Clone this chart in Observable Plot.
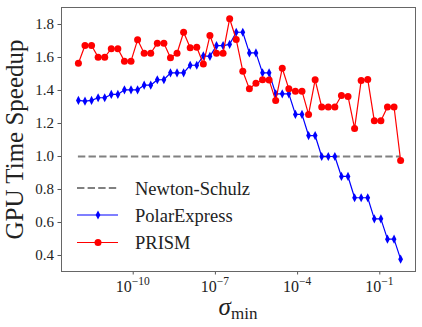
<!DOCTYPE html>
<html><head><meta charset="utf-8">
<script src="https://cdn.jsdelivr.net/npm/d3@7"></script>
<script src="https://cdn.jsdelivr.net/npm/@observablehq/plot@0.6"></script>
<style>
html,body{margin:0;padding:0;background:#fff;}
#chart{width:422px;height:327px;}
</style>
</head><body><div id="chart"></div>
<script>
// log10(sigma_min) for each measured point
const sigmaExp = [-12, -11.76, -11.52, -11.28, -11.04, -10.8, -10.56, -10.32, -10.08, -9.84,
  -9.6, -9.36, -9.12, -8.88, -8.64, -8.4, -8.16, -7.92, -7.68, -7.44,
  -7.2, -6.96, -6.72, -6.48, -6.24, -6, -5.76, -5.52, -5.28, -5.04,
  -4.8, -4.56, -4.32, -4.08, -3.84, -3.6, -3.36, -3.12, -2.88, -2.64,
  -2.4, -2.16, -1.92, -1.68, -1.44, -1.2, -0.96, -0.72, -0.48, -0.24];
const polarExpress = [1.34, 1.335, 1.34, 1.356, 1.356, 1.376, 1.376, 1.404, 1.404, 1.404,
  1.432, 1.432, 1.465, 1.465, 1.507, 1.507, 1.507, 1.553, 1.553, 1.61,
  1.607, 1.672, 1.672, 1.68, 1.753, 1.753, 1.628, 1.628, 1.507, 1.507,
  1.38, 1.38, 1.38, 1.255, 1.255, 1.127, 1.127, 1.0, 1.0, 1.0,
  0.879, 0.879, 0.75, 0.75, 0.75, 0.622, 0.622, 0.499, 0.499, 0.378];
const prism = [1.565, 1.673, 1.673, 1.602, 1.602, 1.653, 1.653, 1.578, 1.578, 1.707,
  1.626, 1.626, 1.687, 1.687, 1.598, 1.626, 1.753, 1.659, 1.662, 1.561,
  1.733, 1.626, 1.626, 1.835, 1.709, 1.517, 1.41, 1.444, 1.465, 1.463,
  1.339, 1.535, 1.41, 1.396, 1.396, 1.255, 1.465, 1.30, 1.30, 1.30,
  1.37, 1.364, 1.17, 1.46, 1.467, 1.216, 1.216, 1.30, 1.30, 0.976];
const newtonSchulz = 1.0;
const xTickExp = [-10, -7, -4, -1];
const yTicks = [0.4, 0.6, 0.8, 1.0, 1.2, 1.4, 1.6, 1.8];
const seriesNames = ["Newton-Schulz", "PolarExpress", "PRISM"];
const colors = {"Newton-Schulz": "#808080", "PolarExpress": "#0000ff", "PRISM": "#ff0000"};

const sigma = sigmaExp.map(e => Math.pow(10, e));
const rowsPE = sigma.map((s, i) => ({sigma: s, v: polarExpress[i]}));
const rowsPR = sigma.map((s, i) => ({sigma: s, v: prism[i]}));
const xTicks = xTickExp.map(e => Math.pow(10, e));

const thinDiamond = {
  draw(ctx) {
    const w = 2.4, h = 4.6;
    ctx.moveTo(0, -h); ctx.lineTo(w, 0); ctx.lineTo(0, h); ctx.lineTo(-w, 0); ctx.closePath();
  }
};

const FONT = "Liberation Serif";
const W = 422, H = 327;
const plot = Plot.plot({
  width: W, height: H,
  marginLeft: 61, marginRight: 7, marginTop: 7, marginBottom: 56,
  style: {fontFamily: FONT, fontSize: "15px", color: "#222", background: "#fff"},
  x: {type: "log", domain: [Math.pow(10, -12.617), Math.pow(10, 0.303)]},
  y: {domain: [0.303, 1.903]},
  marks: [
    Plot.ruleY([newtonSchulz], {x1: sigma[0], x2: sigma[sigma.length - 1], stroke: colors["Newton-Schulz"], strokeWidth: 2, strokeDasharray: "7.4,3.2"}),
    Plot.line(rowsPE, {x: "sigma", y: "v", stroke: colors["PolarExpress"], strokeWidth: 1.2}),
    Plot.dot(rowsPE, {x: "sigma", y: "v", symbol: thinDiamond, fill: colors["PolarExpress"], stroke: "none"}),
    Plot.line(rowsPR, {x: "sigma", y: "v", stroke: colors["PRISM"], strokeWidth: 1.2}),
    Plot.dot(rowsPR, {x: "sigma", y: "v", r: 3.5, fill: colors["PRISM"], stroke: "none"}),
    Plot.axisY({ticks: yTicks, tickSize: 3.5, tickPadding: 4, tickFormat: d => d.toFixed(1), label: null, fontSize: 15, stroke: "#555"}),
    Plot.axisX({ticks: xTicks, tickSize: 3.5, tickFormat: () => "", label: null, stroke: "#555"}),
    Plot.frame({stroke: "#666", strokeWidth: 1})
  ]
});
document.getElementById("chart").appendChild(plot);

const svg = d3.select(plot);
const xs = plot.scale("x");
// x tick labels with superscripts
xTickExp.forEach((e, i) => {
  const t = svg.append("text")
    .attr("x", xs.apply(xTicks[i])).attr("y", 292)
    .attr("text-anchor", "middle")
    .attr("font-family", FONT).attr("font-size", 16).attr("fill", "#222");
  t.append("tspan").text("10");
  t.append("tspan").attr("dy", -7.5).attr("font-size", 11.5).text("\u2212" + Math.abs(e));
});
// axis titles
svg.append("text")
  .attr("transform", "translate(23,139.5) rotate(-90)")
  .attr("text-anchor", "middle")
  .attr("font-family", FONT).attr("font-size", 25).attr("fill", "#222")
  .text("GPU Time Speedup");
const xl = svg.append("text")
  .attr("x", 238).attr("y", 315)
  .attr("text-anchor", "middle")
  .attr("font-family", FONT).attr("fill", "#222");
xl.append("tspan").attr("font-size", 25).attr("font-style", "italic").text("\u03C3");
xl.append("tspan").attr("font-size", 17).attr("dy", 4).text("min");

// legend
const leg = svg.append("g").attr("font-family", FONT).attr("font-size", 18.5).attr("fill", "#222").attr("text-anchor", "start");
const legY = [188, 215, 242.5];
seriesNames.forEach((name, i) => {
  const y = legY[i];
  const line = leg.append("line").attr("x1", 77).attr("x2", 118).attr("y1", y).attr("y2", y)
    .attr("stroke", colors[name]);
  if (i === 0) line.attr("stroke-width", 2).attr("stroke-dasharray", "7.4,3.2");
  else line.attr("stroke-width", 1.2);
  if (i === 1) {
    leg.append("path").attr("d", "M98," + (y - 4.6) + "L100.4," + y + "L98," + (y + 4.6) + "L95.6," + y + "Z").attr("fill", colors[name]);
  } else if (i === 2) {
    leg.append("circle").attr("cx", 98).attr("cy", y).attr("r", 3.5).attr("fill", colors[name]);
  }
  leg.append("text").attr("x", 135).attr("y", y + 6.5).attr("text-anchor", "start").text(name);
});
</script>
</body></html>
